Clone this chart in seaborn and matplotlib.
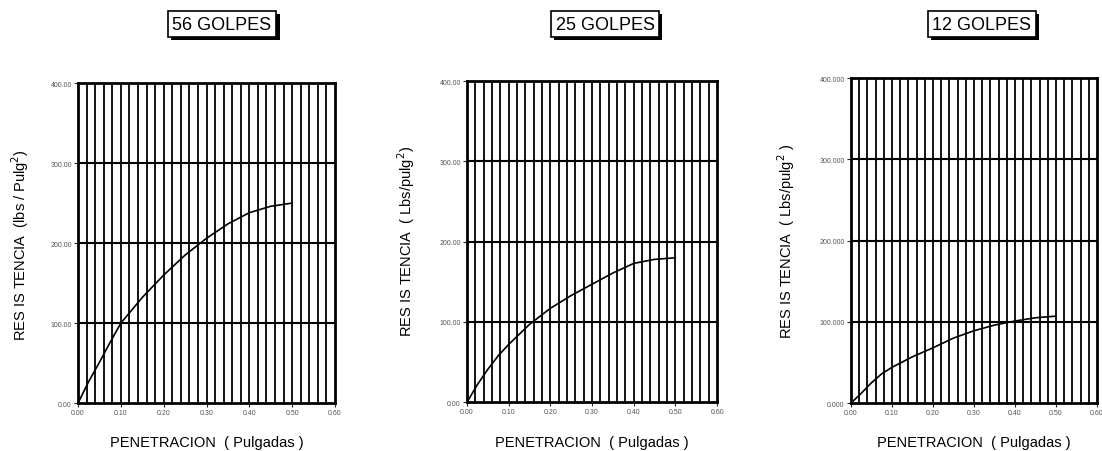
import numpy as np
import pandas as pd
import matplotlib
matplotlib.use("Agg")
import matplotlib.pyplot as plt
import matplotlib.patheffects as pe
import seaborn as sns

# data (penetration in inches, resistance in lbs/in2)
penetracion = [0.0, 0.025, 0.05, 0.075, 0.10, 0.15, 0.20, 0.25, 0.30, 0.35, 0.40, 0.45, 0.50]
res_56 = [0, 27, 51, 76, 100, 132, 160, 185, 206, 224, 238, 246, 250]
res_25 = [0, 22, 41, 58, 72, 97, 117, 133, 147, 161, 173, 178, 180]
res_12 = [0, 12, 25, 36, 44, 57, 68, 80, 89, 96, 101, 105, 107]

titulos = ["56 GOLPES", "25 GOLPES", "12 GOLPES"]
ylabels = ["RES IS TENCIA  (lbs / Pulg$^2$)", "RES IS TENCIA  ( Lbs/pulg$^2$)", "RES IS TENCIA  ( Lbs/pulg$^2$ )"]
xlabel = "PENETRACION  ( Pulgadas )"
ytick_fmt = ["{:.2f}", "{:.2f}", "{:.3f}"]

sns.set_style("white")
plt.rcParams['font.family'] = ['Liberation Sans', 'DejaVu Sans']
plt.rcParams['text.color'] = 'black'

fig = plt.figure(figsize=(11.02, 4.52), dpi=100)

rects = [
    [0.0708, 0.106, 0.2332, 0.708],
    [0.4238, 0.108, 0.2269, 0.710],
    [0.7722, 0.106, 0.2232, 0.719],
]
title_x = [222, 605, 982]
ylabel_x = [20, 406, 786]
ylabel_y = [245, 241, 241]
series = [res_56, res_25, res_12]

for i in range(3):
    ax = fig.add_axes(rects[i])
    df = pd.DataFrame({'pen': penetracion, 'res': series[i]})

    ax.set_xlim(0, 0.6)
    ax.set_ylim(0, 400)

    # dense vertical grid every 0.02, horizontal every 100
    for xv in np.arange(0.02, 0.6, 0.02):
        ax.axvline(xv, color='black', lw=1.3, zorder=1)
    for yv in [100, 200, 300]:
        ax.axhline(yv, color='black', lw=1.5, zorder=1)

    sns.lineplot(data=df, x='pen', y='res', ax=ax, color='black', lw=1.2, zorder=3)

    for s in ax.spines.values():
        s.set_linewidth(2.0)
        s.set_color('black')

    ax.set_xticks(np.arange(0, 0.61, 0.1))
    ax.set_xticklabels(["{:.2f}".format(v) for v in np.arange(0, 0.61, 0.1)])
    ax.set_yticks([0, 100, 200, 300, 400])
    ax.set_yticklabels([ytick_fmt[i].format(v) for v in [0, 100, 200, 300, 400]])
    ax.tick_params(axis='both', labelsize=5, labelcolor='#555555', length=3, width=0.8,
                   direction='out', pad=1.5)
    ax.tick_params(axis='x', bottom=True)
    ax.tick_params(axis='y', left=True)

    ax.set_xlabel("")
    ax.set_ylabel("")

    fig.text(ylabel_x[i] / 1102, 1 - ylabel_y[i] / 452, ylabels[i], rotation=90,
             ha='center', va='center', fontsize=10.5, color='black')
    fig.text((rects[i][0] + rects[i][2] / 2), 1 - 443 / 452, xlabel,
             ha='center', va='center', fontsize=10.5, color='black')

    t = fig.text(title_x[i] / 1102, 1 - 25 / 452, titulos[i], ha='center', va='center',
                 fontsize=13, color='black',
                 bbox=dict(boxstyle='square,pad=0.25', fc='white', ec='black', lw=1.2))
    t.get_bbox_patch().set_path_effects([
        pe.SimplePatchShadow(offset=(2.5, -2.5), shadow_rgbFace='black', alpha=1.0),
        pe.Normal()])

plt.savefig('out.png', dpi=100)
